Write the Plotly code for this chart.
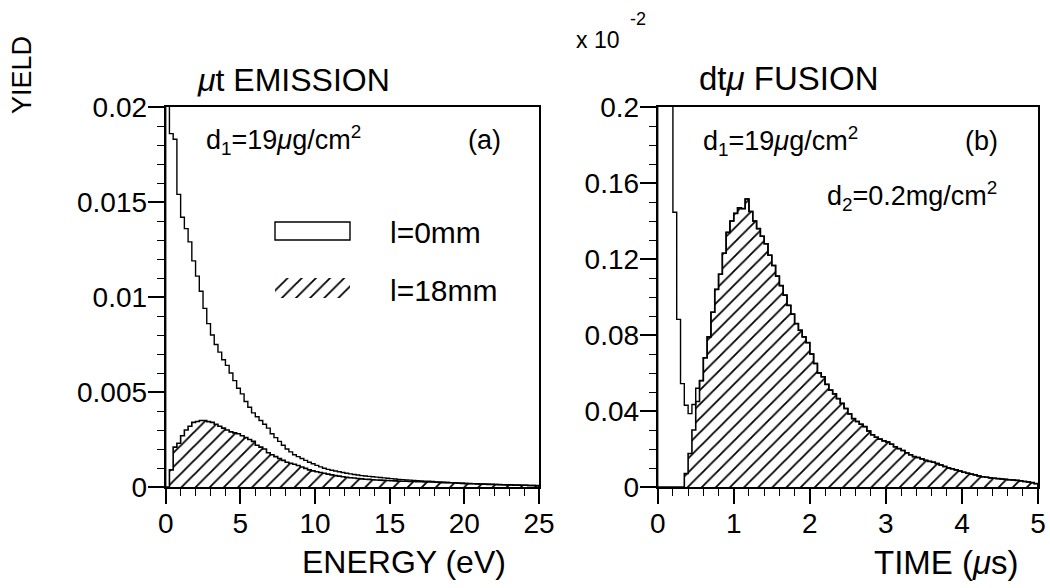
import numpy as np
import plotly.graph_objects as go

# ---------------- data ----------------
# (a) mu-t emission energy spectrum, bins of 0.25 eV from 0 to 25 eV
energy_bin_width = 0.25
yield_a_l0 = [
    0.030, 0.0186, 0.0183, 0.0154, 0.0142, 0.0136, 0.0129, 0.0119, 0.0111, 0.0103,
    0.0094, 0.0086, 0.0080, 0.0075, 0.0071, 0.0067, 0.0064, 0.0060, 0.0056, 0.0052,
    0.0049, 0.0045, 0.0042, 0.0039, 0.0037, 0.0035, 0.0033, 0.0031, 0.0028, 0.0026,
    0.0024, 0.0022, 0.0020, 0.00185, 0.0017, 0.0016, 0.0015, 0.0014, 0.0013, 0.00122,
    0.00114, 0.00106, 0.00099, 0.00093, 0.00088, 0.00084, 0.00080, 0.00076, 0.00072, 0.00069,
    0.00066, 0.00063, 0.00060, 0.00058, 0.00056, 0.00054, 0.00052, 0.00050, 0.00048, 0.00046,
    0.00044, 0.00042, 0.00040, 0.00039, 0.00037, 0.00036, 0.00034, 0.00033, 0.00032, 0.00031,
    0.00030, 0.00029, 0.00027, 0.00026, 0.00025, 0.00024, 0.00023, 0.00022, 0.00021, 0.00020,
    0.00019, 0.00018, 0.00018, 0.00017, 0.00016, 0.00015, 0.00015, 0.00014, 0.00013, 0.00013,
    0.00012, 0.00011, 0.00011, 0.00010, 0.00010, 0.00009, 0.00009, 0.00008, 0.00008, 0.00007,
]
yield_a_l18 = [
    0.0, 0.0009, 0.0021, 0.0023, 0.0027, 0.0030, 0.0032, 0.0034, 0.00345, 0.0035,
    0.0035, 0.00344, 0.0034, 0.0033, 0.0032, 0.0031, 0.0030, 0.0029, 0.00285, 0.0028,
    0.0027, 0.0026, 0.0025, 0.0024, 0.0022, 0.0021, 0.0020, 0.0018, 0.0017, 0.0016,
    0.0015, 0.0014, 0.0013, 0.00125, 0.0012, 0.00113, 0.00105, 0.00098, 0.0009, 0.00085,
    0.0008, 0.00076, 0.00072, 0.00068, 0.00064, 0.0006, 0.00057, 0.00054, 0.00051, 0.00049,
    0.00047, 0.00045, 0.00043, 0.00041, 0.00040, 0.00038, 0.00037, 0.00036, 0.00035, 0.00034,
    0.00033, 0.00032, 0.00031, 0.00030, 0.00030, 0.00029, 0.00029, 0.00028, 0.00028, 0.00027,
    0.00027, 0.00026, 0.00025, 0.00024, 0.00023, 0.00023, 0.00022, 0.00021, 0.00020, 0.00019,
    0.00018, 0.00018, 0.00017, 0.00016, 0.00016, 0.00015, 0.00014, 0.00014, 0.00013, 0.00012,
    0.00012, 0.00011, 0.00011, 0.00010, 0.00010, 0.00009, 0.00009, 0.00008, 0.00008, 0.00007,
]

# (b) dt-mu fusion time spectrum, bins of 0.05 us from 0 to 5 us (units of 1e-2)
time_bin_width = 0.05
yield_b_l18 = [
    0.0, 0.0, 0.0, 0.0, 0.0, 0.0, 0.0, 0.0071, 0.0176, 0.0300,
    0.0450, 0.0560, 0.0680, 0.0790, 0.0920, 0.1040, 0.1120, 0.1230, 0.1340, 0.1400,
    0.1440, 0.1470, 0.1465, 0.1516, 0.1450, 0.1400, 0.1360, 0.1320, 0.1280, 0.1220,
    0.1166, 0.1110, 0.1060, 0.1010, 0.0956, 0.0910, 0.0860, 0.0825, 0.0790, 0.0760,
    0.0700, 0.0650, 0.0600, 0.0580, 0.0540, 0.0510, 0.0490, 0.0465, 0.0440, 0.0413,
    0.0385, 0.0360, 0.0345, 0.0330, 0.0318, 0.0295, 0.0275, 0.0262, 0.0252, 0.0243,
    0.0237, 0.0225, 0.0212, 0.0202, 0.0192, 0.0180, 0.0170, 0.0160, 0.0155, 0.0148,
    0.0140, 0.0135, 0.0130, 0.0124, 0.0116, 0.0108, 0.0100, 0.0096, 0.0090, 0.0084,
    0.0078, 0.0072, 0.0068, 0.0064, 0.0058, 0.0054, 0.0051, 0.0048, 0.0046, 0.0044,
    0.0042, 0.0040, 0.0038, 0.0037, 0.0035, 0.0032, 0.0029, 0.0026, 0.0023, 0.0018,
]
# l=0mm: prompt part (first 11 bins), identical to l=18mm afterwards
yield_b_l0_early = [0.5, 0.5, 0.5, 0.5, 0.1446, 0.0882, 0.0544, 0.0430, 0.0386, 0.0434, 0.0520]
yield_b_l0 = yield_b_l0_early + yield_b_l18[len(yield_b_l0_early):]

x_a_ticks = [0, 5, 10, 15, 20, 25]
y_a_ticks = [0, 0.005, 0.01, 0.015, 0.02]
y_a_text = ["0", "0.005", "0.01", "0.015", "0.02"]
x_b_ticks = [0, 1, 2, 3, 4, 5]
y_b_ticks = [0, 0.04, 0.08, 0.12, 0.16, 0.2]
y_b_text = ["0", "0.04", "0.08", "0.12", "0.16", "0.2"]

# ---------------- helpers ----------------
W, H = 1050, 588
FONT = "Liberation Sans, Arial, Helvetica, sans-serif"


def px(x):
    return x / W


def py(y):
    return 1 - y / H


def step_xy(vals, width):
    n = len(vals)
    edges = np.arange(n + 1) * width
    xs = [edges[0]] + list(edges[:-1]) + [edges[-1], edges[-1]]
    ys = [0.0] + list(vals) + [vals[-1], 0.0]
    return xs, ys


hatch = dict(shape="/", fgcolor="black", bgcolor="white", size=10, solidity=0.18, fgopacity=1)

fig = go.Figure()

# panel (a)
xa, ya = step_xy(yield_a_l18, energy_bin_width)
fig.add_trace(go.Scatter(x=xa, y=ya, mode="lines", line=dict(color="black", width=1.6, shape="hv"),
                         fill="tozeroy", fillcolor="white", fillpattern=hatch,
                         xaxis="x", yaxis="y", showlegend=False))
xa, ya = step_xy(yield_a_l0, energy_bin_width)
fig.add_trace(go.Scatter(x=xa, y=ya, mode="lines", line=dict(color="black", width=1.4, shape="hv"),
                         xaxis="x", yaxis="y", showlegend=False))

# panel (b)
xb, yb = step_xy(yield_b_l18, time_bin_width)
fig.add_trace(go.Scatter(x=xb, y=yb, mode="lines", line=dict(color="black", width=1.6, shape="hv"),
                         fill="tozeroy", fillcolor="white", fillpattern=hatch,
                         xaxis="x2", yaxis="y2", showlegend=False))
xb, yb = step_xy(yield_b_l0, time_bin_width)
fig.add_trace(go.Scatter(x=xb, y=yb, mode="lines", line=dict(color="black", width=1.4, shape="hv"),
                         xaxis="x2", yaxis="y2", showlegend=False))

# legend swatch for hatched (pixel-coordinate overlay axis)
fig.add_trace(go.Scatter(x=[275, 350, 350, 275, 275], y=[278, 278, 298, 298, 278], mode="lines",
                         line=dict(width=0), fill="toself", fillcolor="white", fillpattern=hatch,
                         xaxis="x3", yaxis="y3", showlegend=False, hoverinfo="skip"))

ydom = [py(487), py(107)]
axis_common = dict(showline=True, linecolor="black", linewidth=2, mirror=True, ticks="outside",
                   tickcolor="black", tickwidth=1.6, showgrid=False, zeroline=False,
                   automargin=False, ticklabelstandoff=-5,
                   tickfont=dict(family=FONT, size=28, color="black"))
minor_common = dict(ticklen=7, ticks="outside", tickcolor="black", tickwidth=1.4, showgrid=False)

fig.update_layout(
    template="none",
    width=W, height=H, autosize=False,
    margin=dict(l=0, r=0, t=0, b=0, pad=0),
    paper_bgcolor="white", plot_bgcolor="rgba(0,0,0,0)",
    showlegend=False,
    xaxis=dict(domain=[px(165.7), px(539)], range=[0, 25], anchor="y", tickmode="array",
               tickvals=x_a_ticks, ticklen=15, minor=dict(dtick=1, **minor_common),
               **axis_common),
    yaxis=dict(domain=ydom, range=[0, 0.02], anchor="x", tickmode="array", tickvals=y_a_ticks,
               ticktext=y_a_text, ticklen=16, minor=dict(dtick=0.001, **minor_common),
               **axis_common),
    xaxis2=dict(domain=[px(657.7), px(1038)], range=[0, 5], anchor="y2", tickmode="array",
                tickvals=x_b_ticks, ticklen=15, minor=dict(dtick=0.2, **minor_common),
                **axis_common),
    yaxis2=dict(domain=ydom, range=[0, 0.2], anchor="x2", tickmode="array", tickvals=y_b_ticks,
                ticktext=y_b_text, ticklen=16, minor=dict(dtick=0.01, **minor_common),
                **axis_common),
    xaxis3=dict(domain=[0, 1], range=[0, W], visible=False, anchor="y3", fixedrange=True,
                automargin=False),
    yaxis3=dict(domain=[0, 1], range=[H, 0], visible=False, anchor="x3", fixedrange=True,
                automargin=False),
)

fig.add_shape(type="rect", xref="paper", yref="paper", x0=px(275), x1=px(350), y0=py(240), y1=py(222),
              line=dict(color="black", width=1.4), fillcolor="rgba(0,0,0,0)")


def ann(text, x, y, size, angle=0, xanchor="center"):
    fig.add_annotation(text=text, x=px(x), y=py(y), xref="paper", yref="paper", showarrow=False,
                       xanchor=xanchor, yanchor="middle", textangle=angle,
                       font=dict(family=FONT, size=size, color="black"))


ann("YIELD", 22, 75, 27, angle=-90)
ann("<i>μ</i>t EMISSION", 293, 80, 32)
ann("dt<i>μ</i> FUSION", 788, 79, 33)
ann("x 10", 597, 40, 23)
ann("-2", 638, 19, 18)
ann("d<sub>1</sub>=19<i>μ</i>g/cm<sup>2</sup>", 283, 140, 27)
ann("(a)", 484, 140, 27)
ann("d<sub>1</sub>=19<i>μ</i>g/cm<sup>2</sup>", 780, 141, 27)
ann("(b)", 981, 141, 27)
ann("d<sub>2</sub>=0.2mg/cm<sup>2</sup>", 912, 196, 27)
ann("l=0mm", 388, 232, 30, xanchor="left")
ann("l=18mm", 388, 290, 30, xanchor="left")
ann("ENERGY (eV)", 404, 562, 32)
ann("TIME (<i>μ</i>s)", 946, 562, 33)

fig.write_html("out.html")
